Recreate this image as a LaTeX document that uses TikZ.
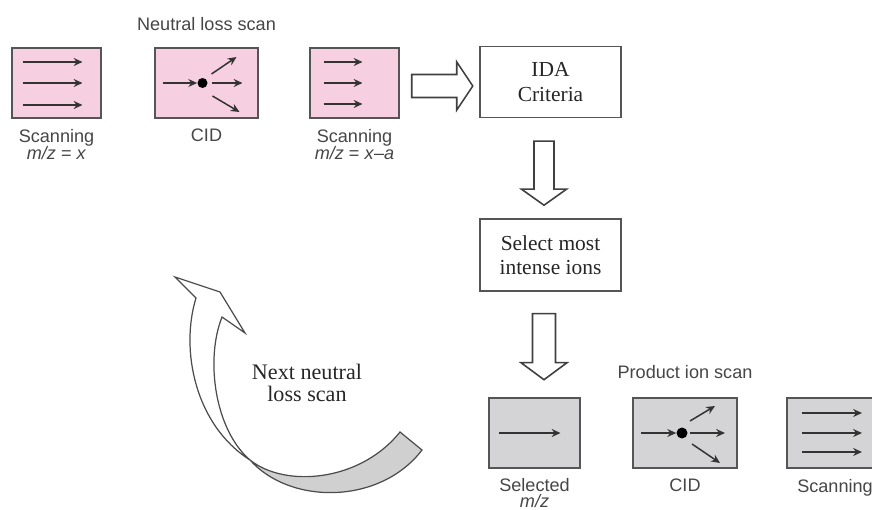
\documentclass[tikz,border=0pt]{standalone}
\usepackage{fontspec}
\setmainfont{Liberation Serif}
\setsansfont{Liberation Sans}
\usetikzlibrary{positioning}
\usetikzlibrary{calc}
\usetikzlibrary{arrows.meta}

\definecolor{scanpink}{RGB}{246,208,225}
\definecolor{scangray}{RGB}{212,212,215}
\definecolor{loopgray}{RGB}{208,208,208}
\definecolor{framegray}{RGB}{85,85,85}
\definecolor{labelgray}{RGB}{70,70,70}

% #1 start, #2 angle, #3 length, #4 half shaft, #5 half head, #6 head length
\newcommand\blockarrow[6]{%
  \begin{scope}[shift={(#1)},rotate=#2]
    \filldraw[fill=white,draw=black!75,line width=0.9pt,line join=miter]
      (0,-#4) -- ({#3-#6},-#4) -- ({#3-#6},-#5) -- (#3,0)
      -- ({#3-#6},#5) -- ({#3-#6},#4) -- (0,#4) -- cycle;
  \end{scope}}

\begin{document}
\begin{tikzpicture}[x=0.02cm,y=-0.02cm
  ,every node/.style={inner sep=0pt}
  ,quad/.style={draw=framegray,line width=0.9pt,minimum width=1.78cm,minimum height=1.4cm}
  ,nlquad/.style={quad,fill=scanpink}
  ,piquad/.style={quad,fill=scangray}
  ,stage/.style={draw=framegray,line width=0.8pt,minimum width=2.82cm,minimum height=1.42cm
                ,align=center,text=black!85,font=\fontsize{12.2}{14}\selectfont}
  ,caption/.style={align=center,text=labelgray,font=\sffamily\fontsize{10.3}{10}\selectfont}
  ,ray/.style={-{Stealth[length=5pt,width=4.5pt]},line width=0.85pt,draw=black!80}
  ,hitdot/.style={circle,fill=black,minimum size=0.2cm}
  ]
\useasboundingbox (0,0) rectangle (872,510);
\clip (0,0) rectangle (872,510);

% neutral loss scan
\node[nlquad] (nl1) at (56.5,83) {};
\node[nlquad,minimum width=2.06cm] (nl2) at (206.5,83) {};
\node[nlquad] (nl3) at (354.5,83) {};
\node[caption,below=0.2cm of nl1] (nl1cap) {Scanning\\\textit{m/z} = \textit{x}};
\node[caption,below=0.2cm of nl2] (nl2cap) {CID};
\node[caption,below=0.2cm of nl3] (nl3cap) {Scanning\\\textit{m/z} = \textit{x}--\textit{a}};
\node[caption,above=0.32cm of nl2] (nltitle) {Neutral loss scan};

\foreach \dy in {-21,0,22}
  \draw[ray] ($(nl1.center)+(-34,\dy)$) -- +(60,0);
\foreach \dy in {-21,0,21}
  \draw[ray] ($(nl3.center)+(-31,\dy)$) -- +(39,0);
\node[hitdot] (hit1) at ($(nl2.center)+(-4,0)$) {};
\draw[ray] ($(hit1)+(-40,0)$) -- (hit1.west);
\draw[ray] ($(hit1)+(9,0)$) -- ($(hit1)+(40,0)$);
\draw[ray] ($(hit1)+(9,-9)$) -- ($(hit1)+(34,-26)$);
\draw[ray] ($(hit1)+(10,13)$) -- ($(hit1)+(37,29)$);

% IDA steps
\node[stage] (ida) at (550.5,82) {IDA\\Criteria};
\node[stage,minimum height=1.44cm] (select) at (550.5,255) {Select most\\intense ions};

\coordinate (toida) at ($(nl3.east)+(12,3)$);
\coordinate (toselect) at ($(ida.south)+(-6.5,23)$);
\coordinate (topi) at ($(select.south)+(-6.5,22)$);
\blockarrow{toida}{0}{61}{11.5}{24}{16}
\blockarrow{toselect}{-90}{64}{10}{22.5}{16}
\blockarrow{topi}{-90}{66}{11.5}{23}{17}

% product ion scan
\node[piquad,minimum width=1.82cm] (pi1) at (534.5,433) {};
\node[piquad,minimum width=2.08cm] (pi2) at (685,433) {};
\node[piquad,minimum width=1.92cm] (pi3) at (835,433) {};
\node[caption,below=0.18cm of pi1,font=\sffamily\fontsize{10.3}{9.5}\selectfont] (pi1cap) {Selected\\\textit{m/z}};
\node[caption,below=0.2cm of pi2] (pi2cap) {CID};
\node[caption,below=0.2cm of pi3] (pi3cap) {Scanning};
\node[caption,above=0.36cm of pi2] (pititle) {Product ion scan};

\draw[ray] ($(pi1.center)+(-36,0)$) -- +(62,0);
\foreach \dy in {-20,0,19}
  \draw[ray] ($(pi3.center)+(-33,\dy)$) -- +(60,0);
\node[hitdot,minimum size=0.22cm] (hit2) at ($(pi2.center)+(-3,0)$) {};
\draw[ray] ($(hit2)+(-41,0)$) -- (hit2.west);
\draw[ray] ($(hit2)+(8,0)$) -- ($(hit2)+(43,0)$);
\draw[ray] ($(hit2)+(8,-12)$) -- ($(hit2)+(33,-27)$);
\draw[ray] ($(hit2)+(10,11)$) -- ($(hit2)+(38,30)$);

% loop back
\filldraw[fill=white,draw=black!70,line width=0.7pt]
  (196,298) .. controls (180,350) and (195,425) .. (250,460)
  .. controls (215,430) and (205,360) .. (222,317)
  -- (245,333) -- (220,292) -- (175,277) -- cycle;
\filldraw[fill=loopgray,draw=black!70,line width=0.7pt]
  (250,460) .. controls (290,505) and (380,505) .. (422,450)
  -- (400,432) .. controls (360,482) and (285,488) .. (250,460) -- cycle;
\node[align=center,text=black!85,font=\fontsize{12.6}{12.8}\selectfont] (nextscan) at (307,383) {Next neutral\\loss scan};
\end{tikzpicture}
\end{document}
